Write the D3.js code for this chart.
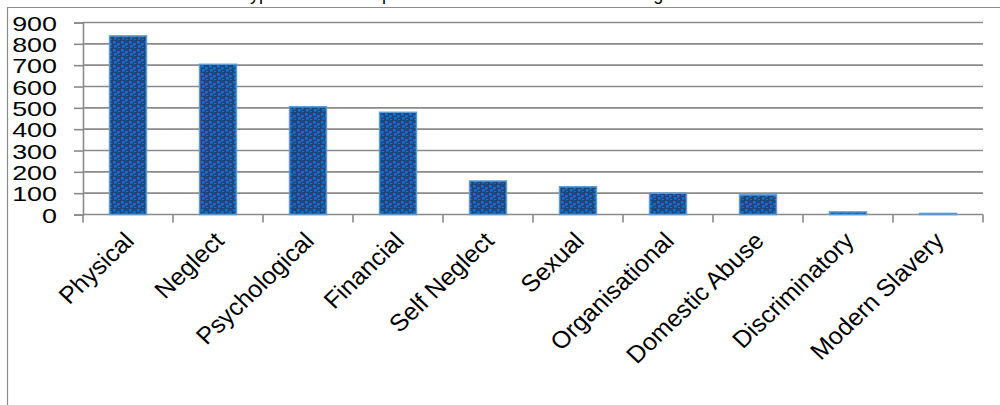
<!DOCTYPE html>
<html>
<head>
<meta charset="utf-8">
<script src="https://cdn.jsdelivr.net/npm/d3@7"></script>
<style>
  html, body { margin: 0; padding: 0; background: #fff; }
  svg { display: block; font-family: "Liberation Sans", Arial, sans-serif; }
</style>
</head>
<body>
<svg id="chart" width="1000" height="405"></svg>
<script>
// Concluded enquiries by type of abuse
const categories = ["Physical", "Neglect", "Psychological", "Financial", "Self Neglect",
  "Sexual", "Organisational", "Domestic Abuse", "Discriminatory", "Modern Slavery"];
const counts = [837, 704, 505, 479, 157, 130, 100, 92, 12, 5];
const yTicks = [0, 100, 200, 300, 400, 500, 600, 700, 800, 900];
const title = "Type of Abuse Reported in Concluded Cases - Categories";

const svg = d3.select("#chart");
const numStretch = 1.28;    // axis numbers are drawn horizontally widened
const labelStretch = 1.05;  // category labels slightly widened

const plot = { left: 83, right: 983, top: 22.5, bottom: 214.5 };

const x = d3.scaleBand().domain(categories).range([plot.left, plot.right])
  .paddingInner(0.59).paddingOuter(0.295);
const y = d3.scaleLinear().domain([0, 900]).range([plot.bottom, plot.top]);

// checkered fill for the bars
const defs = svg.append("defs");
const pat = defs.append("pattern").attr("id", "check")
  .attr("patternUnits", "userSpaceOnUse").attr("width", 8).attr("height", 8);
pat.append("rect").attr("width", 8).attr("height", 8).attr("fill", "#1d467c");
[[1, 1], [5, 3], [2, 5], [6, 7]].forEach(([px, py]) => {
  pat.append("rect").attr("x", px).attr("y", py).attr("width", 2.6).attr("height", 2.6)
    .attr("fill", "#0a74d0");
});

// outer frame (top and left edges)
svg.append("path")
  .attr("d", "M7.5,405 V7.5 H1000")
  .attr("fill", "none").attr("stroke", "#8c8c8c").attr("stroke-width", 1.2);

// title, sitting above the top edge
svg.append("text")
  .attr("x", 240).attr("y", -0.5)
  .attr("font-size", 18).attr("fill", "#000")
  .text(title);

// horizontal gridlines
svg.append("g")
  .selectAll("line").data(yTicks.filter(d => d > 0)).join("line")
  .attr("x1", plot.left).attr("x2", plot.right)
  .attr("y1", d => y(d)).attr("y2", d => y(d))
  .attr("stroke", "#8a8a8a").attr("stroke-width", 1.6);

// y axis
const yAxis = svg.append("g").attr("transform", `translate(${plot.left},0)`)
  .call(d3.axisLeft(y).tickValues(yTicks).tickSize(9).tickPadding(0).tickFormat(d3.format("d")));
yAxis.select(".domain").attr("stroke", "#8a8a8a").attr("stroke-width", 1.6);
yAxis.selectAll(".tick line").attr("stroke", "#8a8a8a").attr("stroke-width", 1.6);
yAxis.selectAll(".tick text").remove();
yAxis.selectAll(".tick").append("text")
  .attr("text-anchor", "end")
  .attr("font-size", 21).attr("fill", "#000")
  .attr("dy", "0.36em")
  .attr("transform", `translate(-26,0) scale(${numStretch},1)`)
  .text(d => d);

// x axis baseline and boundary ticks
const bounds = categories.map(c => x(c) - x.step() * x.paddingInner() / 2);
bounds.push(plot.right);
svg.append("line")
  .attr("x1", plot.left).attr("x2", plot.right)
  .attr("y1", plot.bottom).attr("y2", plot.bottom)
  .attr("stroke", "#8a8a8a").attr("stroke-width", 1.6);
svg.append("g").selectAll("line").data(bounds).join("line")
  .attr("x1", d => d).attr("x2", d => d)
  .attr("y1", plot.bottom).attr("y2", plot.bottom + 8)
  .attr("stroke", "#8a8a8a").attr("stroke-width", 1.6);

// bars
svg.append("g").selectAll("rect").data(categories).join("rect")
  .attr("x", c => x(c))
  .attr("width", x.bandwidth())
  .attr("y", (c, i) => y(counts[i]))
  .attr("height", (c, i) => y(0) - y(counts[i]))
  .attr("fill", "url(#check)")
  .attr("stroke", "#5b9bd5").attr("stroke-width", 1.5);

// rotated category labels
svg.append("g").selectAll("text").data(categories).join("text")
  .attr("text-anchor", "end")
  .attr("font-size", 24).attr("fill", "#000")
  .attr("transform", c => `translate(${x(c) + x.bandwidth() / 2 - 5},${plot.bottom + 16}) scale(${labelStretch},1) rotate(-45)`)
  .attr("dy", "0.7em")
  .text(c => c);
</script>
</body>
</html>
